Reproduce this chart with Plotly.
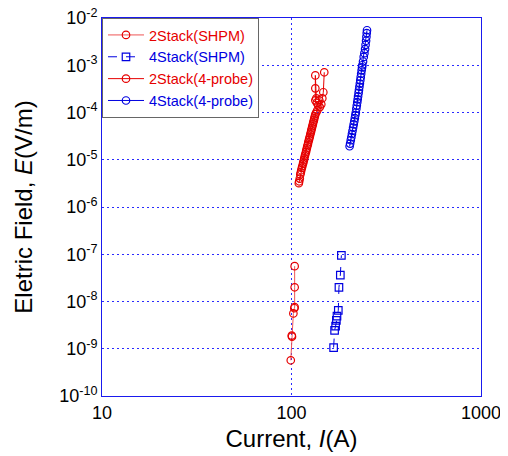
import plotly.graph_objects as go

# ---- data ----
shpm2_I = [99.1, 100.3, 100.6, 102.3, 103.5, 103.9, 103.9, 103.9]
shpm2_E = [5.7e-10, 1.9e-9, 1.8e-9, 5.6e-9, 7.2e-9, 7.6e-9, 2.0e-8, 5.6e-8]

shpm4_I = [166.8, 168.8, 170.9, 172.5, 173.8, 176.6, 178.0, 181.0, 183.3]
shpm4_E = [1.06e-9, 2.46e-9, 3.0e-9, 4.0e-9, 4.9e-9, 6.5e-9, 2.0e-8, 3.6e-8, 9.5e-8]

probe2_I = [109.3, 109.8, 110.6, 111.3, 112.0, 112.6, 113.4, 114.0, 115.0, 115.4,
            116.3, 116.8, 117.6, 118.2, 119.2, 119.7, 120.5, 121.1, 122.0, 122.6,
            123.5, 124.2, 125.0, 125.7, 126.6, 127.2, 128.0, 128.8, 129.6, 130.3,
            131.2, 131.9, 132.8, 133.6, 135.0, 136.8, 138.5, 136.0, 133.6, 133.6,
            133.6, 135.2, 140.2, 143.6, 141.0, 145.4, 147.2, 148.9]
probe2_E = [3.2e-6, 3.5e-6, 4.0e-6, 4.9e-6, 5.4e-6, 6.0e-6, 6.7e-6, 7.3e-6, 8.2e-6, 8.8e-6,
            9.8e-6, 1.07e-5, 1.2e-5, 1.3e-5, 1.45e-5, 1.58e-5, 1.75e-5, 1.93e-5, 2.1e-5, 2.34e-5,
            2.6e-5, 2.84e-5, 3.1e-5, 3.46e-5, 3.8e-5, 4.2e-5, 4.6e-5, 5.1e-5, 5.6e-5, 6.2e-5,
            6.8e-5, 7.5e-5, 8.3e-5, 9.2e-5, 1.0e-4, 1.11e-4, 1.42e-4, 1.6e-4, 1.81e-4, 3.25e-4,
            6.1e-4, 2.0e-4, 1.81e-4, 1.49e-4, 1.3e-4, 2.0e-4, 2.68e-4, 7.1e-4]

probe4_I = [202.6, 203.9, 205.5, 206.9, 208.4, 209.9, 211.4, 212.9, 214.4, 215.9,
            217.3, 218.5, 219.9, 221.1, 222.4, 223.5, 224.6, 226.0, 227.0, 228.2,
            229.5, 230.7, 231.9, 233.2, 234.5, 235.6, 236.4, 238.5, 240.5, 242.5,
            244.5, 246.0, 247.5, 248.5, 249.5, 250.3]
probe4_E = [1.93e-5, 2.2e-5, 2.6e-5, 3.0e-5, 3.5e-5, 4.1e-5, 4.8e-5, 5.6e-5, 6.5e-5, 7.6e-5,
            8.8e-5, 1.0e-4, 1.2e-4, 1.4e-4, 1.65e-4, 1.9e-4, 2.2e-4, 2.6e-4, 3.0e-4, 3.5e-4,
            4.1e-4, 4.8e-4, 5.6e-4, 6.6e-4, 7.8e-4, 9.0e-4, 1.0e-3, 1.2e-3, 1.5e-3, 1.8e-3,
            2.2e-3, 2.7e-3, 3.3e-3, 4.0e-3, 4.8e-3, 5.5e-3]

x_tickvals = [10, 100, 1000]
x_ticktext = ["10", "100", "1000"]
y_exps = [-10, -9, -8, -7, -6, -5, -4, -3, -2]

RED = "#e60000"
BLUE = "#0000e0"

fig = go.Figure()

def add(I, E, name, color, symbol, dash="solid", lcolor=None):
    fig.add_trace(go.Scatter(
        x=I, y=E, mode="lines+markers",
        name=f"<span style='color:{color}'>{name}</span>",
        line=dict(color=lcolor or color, width=1, dash=dash),
        marker=dict(symbol=symbol, size=7.5, color=color,
                    line=dict(color=color, width=1.2)),
    ))

add(shpm2_I, shpm2_E, "2Stack(SHPM)", RED, "circle-open", lcolor="#ee5555")
add(shpm4_I, shpm4_E, "4Stack(SHPM)", BLUE, "square-open", dash="dash")
add(probe2_I, probe2_E, "2Stack(4-probe)", RED, "circle-open")
add(probe4_I, probe4_E, "4Stack(4-probe)", BLUE, "circle-open")

axis_common = dict(
    type="log", showline=True, linecolor="#1a1aee", linewidth=1, mirror=True,
    showgrid=True, gridcolor="#2a2aff", griddash="2px,3px", gridwidth=1,
    ticks="", zeroline=False, automargin=False, ticklabeloverflow="allow",
    tickfont=dict(family="Liberation Sans, Arial", size=18, color="black"),
)

fig.update_layout(
    width=500, height=448,
    margin=dict(l=94, r=27, t=10, b=60),
    paper_bgcolor="white", plot_bgcolor="white",
    font=dict(family="Liberation Sans, Arial", color="black"),
    showlegend=True,
    legend=dict(x=0, y=1, xanchor="left", yanchor="top",
                bgcolor="white", bordercolor="#666666", borderwidth=1,
                font=dict(size=14.5, family="Liberation Sans, Arial"),
                tracegroupgap=0, itemwidth=36),
    xaxis=dict(
        **axis_common,
        range=[1, 3],
        tickvals=x_tickvals, ticktext=x_ticktext,
        title=dict(text="Current, <i>I</i>(A)", font=dict(size=24), standoff=8),
    ),
    yaxis=dict(
        **axis_common,
        range=[-10, -2],
        tickvals=[10 ** e for e in y_exps],
        ticktext=[f"10<sup>{e}</sup>" for e in y_exps],
        title=dict(text="Eletric Field, <i>E</i>(V/m)", font=dict(size=24), standoff=19),
    ),
)

fig.write_html("out.html")
